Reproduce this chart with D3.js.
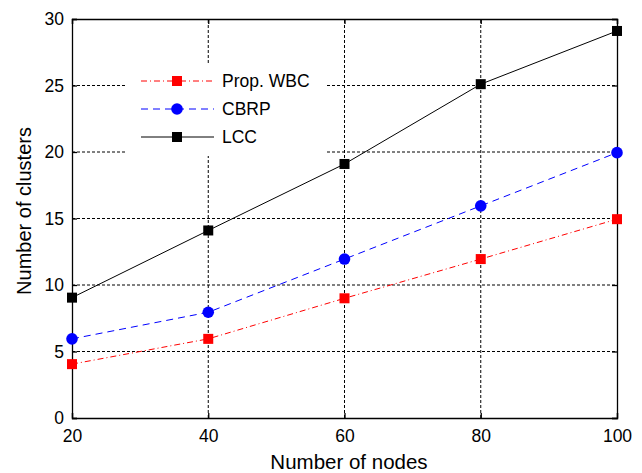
<!DOCTYPE html>
<html><head><meta charset="utf-8">
<script src="https://cdn.jsdelivr.net/npm/d3@7"></script>
<style>html,body{margin:0;padding:0;background:#fff;}svg{display:block;}</style>
</head><body>
<script>
const nodes = [20, 40, 60, 80, 100];
const wbc = [4.05, 5.95, 9.0, 11.95, 14.95];
const cbrp = [5.95, 7.95, 11.95, 15.95, 19.95];
const lcc = [9.05, 14.1, 19.1, 25.1, 29.1];
const xTicks = [20, 40, 60, 80, 100];
const yTicks = [0, 5, 10, 15, 20, 25, 30];
const seriesNames = ["Prop. WBC", "CBRP", "LCC"];

const W = 642, H = 473;
const m = {l: 72, r: 25, t: 19, b: 55};
const svg = d3.select("body").append("svg").attr("width", W).attr("height", H);
const x = d3.scaleLinear().domain([20, 100]).range([m.l, W - m.r]);
const y = d3.scaleLinear().domain([0, 30]).range([H - m.b, m.t]);
const font = "Arial, 'Liberation Sans', Helvetica, sans-serif";

// grid
const g = svg.append("g");
g.selectAll(".gx").data(xTicks.slice(1, -1)).join("line")
  .attr("x1", d => x(d)).attr("x2", d => x(d)).attr("y1", y(0)).attr("y2", y(30))
  .attr("stroke", "#000").attr("stroke-width", 1).attr("stroke-dasharray", "3,2");
g.selectAll(".gy").data(yTicks.slice(1, -1)).join("line")
  .attr("y1", d => y(d)).attr("y2", d => y(d)).attr("x1", x(20)).attr("x2", x(100))
  .attr("stroke", "#000").attr("stroke-width", 1).attr("stroke-dasharray", "3,2");

// axes with inward ticks
const ax = svg.append("g").attr("transform", `translate(0,${y(0)})`)
  .call(d3.axisBottom(x).tickValues(xTicks).tickSize(-5).tickPadding(12));
const ay = svg.append("g").attr("transform", `translate(${x(20)},0)`)
  .call(d3.axisLeft(y).tickValues(yTicks).tickSize(-5).tickPadding(8));
const axT = svg.append("g").attr("transform", `translate(0,${y(30)})`)
  .call(d3.axisTop(x).tickValues(xTicks).tickSize(-5).tickFormat(""));
const ayR = svg.append("g").attr("transform", `translate(${x(100)},0)`)
  .call(d3.axisRight(y).tickValues(yTicks).tickSize(-5).tickFormat(""));
[ax, ay, axT, ayR].forEach(a => {
  a.select(".domain").attr("stroke", "#000").attr("stroke-width", 1.3);
  a.selectAll(".tick line").attr("stroke", "#000").attr("stroke-width", 1.3);
  a.selectAll(".tick text").attr("font-family", font).attr("font-size", 17.5).attr("fill", "#000");
});

// legend box (white, covers grid)
svg.append("rect").attr("x", 126).attr("y", 63).attr("width", 201).attr("height", 93).attr("fill", "#fff");

const series = [
  {name: seriesNames[0], vals: wbc, color: "#ff0000", dash: "6,3,1,3", shape: "square", w: 1},
  {name: seriesNames[1], vals: cbrp, color: "#0000ff", dash: "7,5", shape: "circle", w: 1},
  {name: seriesNames[2], vals: lcc, color: "#000000", dash: null, shape: "square", w: 1}
];
const line = d3.line().x((d, i) => x(nodes[i])).y(d => y(d));
function marker(sel, shape, color) {
  if (shape === "square") {
    sel.append("rect").attr("x", -5).attr("y", -5).attr("width", 10).attr("height", 10).attr("fill", color);
  } else {
    sel.append("circle").attr("r", 5.8).attr("fill", color);
  }
}
series.forEach(s => {
  svg.append("path").datum(s.vals).attr("d", line).attr("fill", "none")
    .attr("stroke", s.color).attr("stroke-width", s.w).attr("stroke-dasharray", s.dash);
  s.vals.forEach((v, i) => {
    const mg = svg.append("g").attr("transform", `translate(${x(nodes[i])},${y(v)})`);
    marker(mg, s.shape, s.color);
  });
});

// legend
const ly = [81, 109, 137];
series.forEach((s, i) => {
  svg.append("line").attr("x1", 141).attr("x2", 214).attr("y1", ly[i]).attr("y2", ly[i])
    .attr("stroke", s.color).attr("stroke-width", 1).attr("stroke-dasharray", s.dash);
  const mg = svg.append("g").attr("transform", `translate(177,${ly[i]})`);
  marker(mg, s.shape, s.color);
  svg.append("text").attr("x", 222).attr("y", ly[i] + 6).attr("font-family", font)
    .attr("font-size", 17.5).attr("fill", "#000").text(s.name);
});

// axis titles
svg.append("text").attr("x", 349).attr("y", 469).attr("text-anchor", "middle")
  .attr("font-family", font).attr("font-size", 20.5).attr("fill", "#000").text("Number of nodes");
svg.append("text").attr("transform", `translate(31,211) rotate(-90)`)
  .attr("text-anchor", "middle").attr("font-family", font).attr("font-size", 20).attr("fill", "#000")
  .text("Number of clusters");
</script>
</body></html>
